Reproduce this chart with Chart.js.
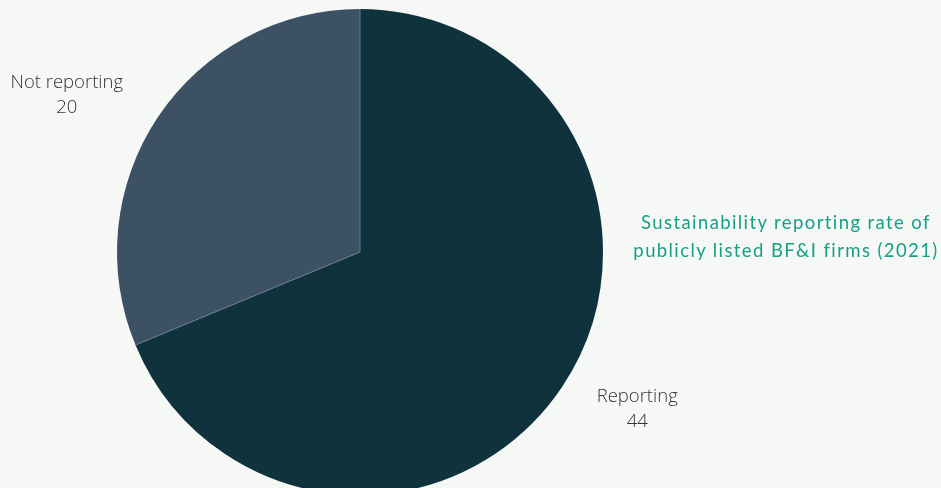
<!DOCTYPE html>
<html>
<head>
<meta charset="utf-8">
<script src="https://cdn.jsdelivr.net/npm/chart.js@4/dist/chart.umd.min.js"></script>
<style>
  html, body { margin: 0; padding: 0; background: #f6f8f6; overflow: hidden; }
  #wrap { position: relative; width: 941px; height: 488px; overflow: hidden; }
  #pie { position: absolute; left: 0; top: 0; }
  #title {
    position: absolute; left: 616px; top: 208px; width: 340px;
    text-align: center; color: #16a085;
    font-family: Lato, "Open Sans", sans-serif; font-size: 18.5px; line-height: 28px;
    letter-spacing: 1.4px;
  }
</style>
</head>
<body>
<div id="wrap">
  <canvas id="pie" width="941" height="504"></canvas>
  <div id="title">Sustainability reporting rate of<br>publicly listed BF&amp;I firms (2021)</div>
</div>
<script>
const categories = ['Reporting', 'Not reporting']
const firmCounts = [44, 20]
const sliceColors = ['#0f323d', '#3d5165']

// thin light divider between slices + outside labels (name, count underneath)
const outsideLabels = {
  id: 'outsideLabels',
  afterDatasetsDraw(chart) {
    const ctx = chart.ctx
    const meta = chart.getDatasetMeta(0)
    ctx.save()
    ctx.strokeStyle = '#6a7c8c'
    ctx.lineWidth = 1
    meta.data.forEach(arc => {
      ctx.beginPath()
      ctx.moveTo(arc.x, arc.y)
      ctx.lineTo(arc.x + Math.cos(arc.startAngle) * arc.outerRadius,
                 arc.y + Math.sin(arc.startAngle) * arc.outerRadius)
      ctx.stroke()
    })
    ctx.font = '300 18.5px "Open Sans", sans-serif'
    ctx.fillStyle = '#333333'
    ctx.textAlign = 'center'
    ctx.textBaseline = 'middle'
    meta.data.forEach((arc, i) => {
      const mid = (arc.startAngle + arc.endAngle) / 2
      const x = arc.x + Math.cos(mid) * (arc.outerRadius + 100) - 8
      const y = arc.y + Math.sin(mid) * (arc.outerRadius + 40)
      ctx.fillText(categories[i], x, y - 12)
      ctx.fillText(String(firmCounts[i]), x, y + 13)
    })
    ctx.restore()
  }
}

const ctx = document.getElementById('pie')
new Chart(ctx, {
  type: 'pie',
  data: {
    labels: categories,
    datasets: [{
      data: firmCounts,
      backgroundColor: sliceColors,
      borderColor: sliceColors,
      borderWidth: 0
    }]
  },
  options: {
    responsive: false,
    animation: false,
    layout: { padding: { left: 117, right: 338, top: 9, bottom: 9 } },
    plugins: {
      legend: { display: false },
      tooltip: { enabled: false }
    }
  },
  plugins: [outsideLabels]
})
</script>
</body>
</html>
